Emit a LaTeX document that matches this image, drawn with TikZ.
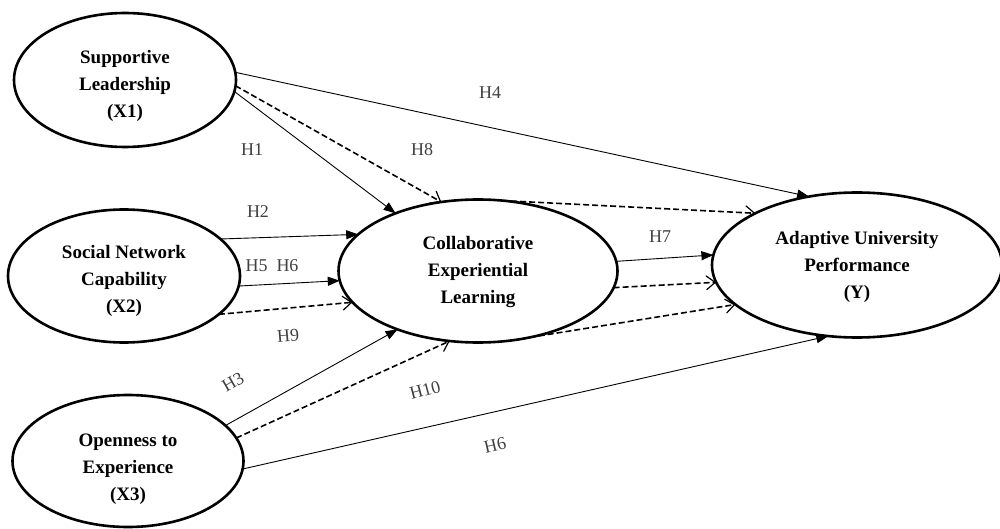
\documentclass[tikz,border=0pt]{standalone}
\usepackage{fontspec}
\setmainfont{Liberation Serif}
\usetikzlibrary{shapes.geometric,arrows.meta}
\newcommand{\topstrut}[1]{\rule{0pt}{#1}}
\tikzset{
  latent/.style={ellipse, draw, line width=1.3pt, inner sep=0pt, outer sep=0pt, align=center,
    font=\fontsize{9.5}{13.5}\selectfont\bfseries},
  solidarr/.style={line width=0.45pt, -{Triangle[length=6pt,width=4.5pt]}},
  dasharr/.style={line width=0.8pt, dash pattern=on 3pt off 1.5pt, -{Straight Barb[length=4.5pt,width=7pt,line width=0.6pt]}},
  hlab/.style={font=\fontsize{9}{11}\selectfont, text=black!75, inner sep=0pt}
}
\begin{document}
\begin{tikzpicture}[x=0.5pt,y=-0.5pt]
\useasboundingbox (0,0) rectangle (1000,529);
\node[latent, minimum width=111pt, minimum height=67pt] (X1) at (125,80) {\topstrut{13pt}Supportive\\Leadership\\(X1)};
\node[latent, minimum width=116pt, minimum height=66.5pt] (X2) at (124,276) {\topstrut{12pt}Social Network\\Capability\\(X2)};
\node[latent, minimum width=115.5pt, minimum height=66pt] (X3) at (128,461) {\topstrut{14.5pt}Openness to\\Experience\\(X3)};
\node[latent, minimum width=139.5pt, minimum height=71.5pt] (M) at (478,271) {\topstrut{8pt}Collaborative\\Experiential\\Learning};
\node[latent, minimum width=145pt, minimum height=72.5pt] (Y) at (857,265) {\topstrut{9pt}Adaptive University\\Performance\\(Y)};

% solid paths
\draw[solidarr] (X1.4) -- (Y.125);
\draw[solidarr] (X1.-6) -- (M.145);
\draw[solidarr] (X2.21) -- (M.163);
\draw[solidarr] (X2.-5) -- (M.184);
\draw[solidarr] (X3.20) -- (M.216);
\draw[solidarr] (X3.-4) -- (Y.248);
\draw[solidarr] (M.4) -- (Y.176);

% dashed paths
\draw[dasharr] (X1.-3) -- (M.118);
\draw[dasharr] (X2.-22) -- (M.194);
\draw[dasharr] (X3.12) -- (M.248);
\draw[dasharr] (M.71) -- (Y.153);
\draw[dasharr] (M.-7) -- (Y.187);
\draw[dasharr] (M.-52) -- (Y.198);

% labels
\node[hlab] (lH4) at (490,93) {H4};
\node[hlab] (lH1) at (252,150) {H1};
\node[hlab] (lH8) at (422,150) {H8};
\node[hlab] (lH2) at (258,212) {H2};
\node[hlab] (lH56) at (272,266) {H5\ \ H6};
\node[hlab, rotate=5] (lH9) at (288,336) {H9};
\node[hlab, rotate=30] (lH3) at (233,382) {H3};
\node[hlab, rotate=15] (lH10) at (425,390) {H10};
\node[hlab, rotate=13] (lH6) at (495,445) {H6};
\node[hlab] (lH7) at (660,237) {H7};
\end{tikzpicture}
\end{document}
